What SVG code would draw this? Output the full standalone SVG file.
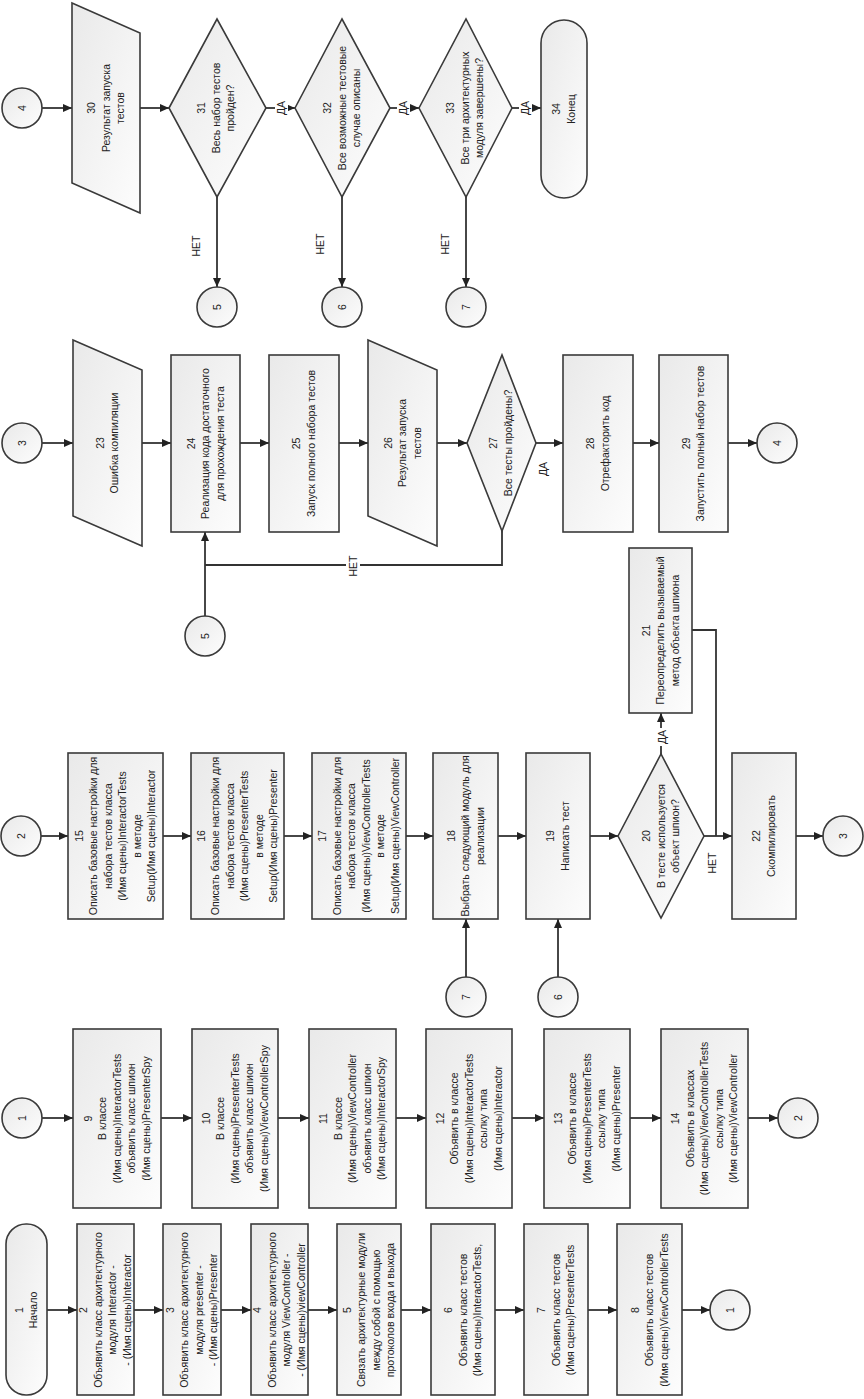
<svg xmlns="http://www.w3.org/2000/svg" width="864" height="1399" viewBox="0 0 864 1399">
<defs>
<linearGradient id="g" x1="0" y1="0" x2="1" y2="1">
<stop offset="0" stop-color="#e9e9e9"/>
<stop offset="1" stop-color="#fdfdfd"/>
</linearGradient>
<marker id="ah" markerUnits="userSpaceOnUse" markerWidth="9" markerHeight="8" refX="9" refY="4" orient="auto">
<path d="M0,0 L9,4 L0,8 z" fill="#222"/>
</marker>
<style>
.b{fill:url(#g);stroke:#3a3a3a;stroke-width:1.6}
.ln{fill:none;stroke:#333;stroke-width:1.8}
.a{marker-end:url(#ah)}
.t{font-family:"Liberation Sans",Arial,sans-serif;font-size:10.5px;fill:#222;text-anchor:middle}
.bg{fill:#fff;stroke:none}
</style>
</defs>
<rect width="864" height="1399" fill="#fff"/>

<g id="connectors">
<path class="ln a" d="M42,108 H72"/>
<path class="ln a" d="M140,108 H169"/>
<path class="ln a" d="M266,108 H295"/>
<path class="ln a" d="M390,108 H419"/>
<path class="ln a" d="M512,108 H541"/>
<path class="ln a" d="M217,197 V287"/>
<path class="ln a" d="M342,197 V287"/>
<path class="ln a" d="M466,197 V287"/>
<path class="ln a" d="M42,443 H73"/>
<path class="ln a" d="M142,443 H171"/>
<path class="ln a" d="M240,443 H269"/>
<path class="ln a" d="M339,443 H368"/>
<path class="ln a" d="M437,443 H467"/>
<path class="ln a" d="M536,443 H563"/>
<path class="ln a" d="M633,443 H659"/>
<path class="ln a" d="M728,443 H757"/>
<path class="ln" d="M502,531 V565 H205"/>
<path class="ln a" d="M205,616 V532"/>
<path class="ln a" d="M41,836 H68"/>
<path class="ln a" d="M163,836 H191"/>
<path class="ln a" d="M284,836 H312"/>
<path class="ln a" d="M406,836 H433"/>
<path class="ln a" d="M498,836 H526"/>
<path class="ln a" d="M590,836 H618"/>
<path class="ln a" d="M704,836 H732"/>
<path class="ln a" d="M796,836 H823"/>
<path class="ln a" d="M661,754 V713"/>
<path class="ln" d="M692,630 H716 V836"/>
<path class="ln a" d="M466,977 V919"/>
<path class="ln a" d="M558,977 V919"/>
<path class="ln a" d="M42,1118 H73"/>
<path class="ln a" d="M161,1118 H192"/>
<path class="ln a" d="M278,1118 H309"/>
<path class="ln a" d="M396,1118 H426"/>
<path class="ln a" d="M512,1118 H544"/>
<path class="ln a" d="M630,1118 H661"/>
<path class="ln a" d="M748,1118 H778"/>
<path class="ln a" d="M47,1310 H77"/>
<path class="ln a" d="M134,1310 H163"/>
<path class="ln a" d="M221,1310 H251"/>
<path class="ln a" d="M308,1310 H337"/>
<path class="ln a" d="M401,1310 H431"/>
<path class="ln a" d="M495,1310 H524"/>
<path class="ln a" d="M588,1310 H617"/>
<path class="ln a" d="M682,1310 H710"/>
<rect class="bg" x="275" y="99" width="13" height="18"/>
<text class="t" transform="translate(281,108) rotate(-90)" y="3.7">ДА</text>
<rect class="bg" x="397" y="99" width="13" height="18"/>
<text class="t" transform="translate(403,108) rotate(-90)" y="3.7">ДА</text>
<rect class="bg" x="519" y="99" width="13" height="18"/>
<text class="t" transform="translate(525,108) rotate(-90)" y="3.7">ДА</text>
<text class="t" transform="translate(196,246) rotate(-90)" y="3.7">НЕТ</text>
<text class="t" transform="translate(320,244) rotate(-90)" y="3.7">НЕТ</text>
<text class="t" transform="translate(445,244) rotate(-90)" y="3.7">НЕТ</text>
<rect class="bg" x="346" y="555" width="14" height="22"/>
<text class="t" transform="translate(353,566) rotate(-90)" y="3.7">НЕТ</text>
<text class="t" transform="translate(543,469) rotate(-90)" y="3.7">ДА</text>
<rect class="bg" x="655" y="728" width="14" height="18"/>
<text class="t" transform="translate(662,737) rotate(-90)" y="3.7">ДА</text>
<text class="t" transform="translate(712,863) rotate(-90)" y="3.7">НЕТ</text>
</g>

<g id="c4a"><circle class="b" cx="22" cy="108" r="20"/><text class="t" transform="translate(22,108) rotate(-90)" y="3.7">4</text></g>
<g id="n30"><polygon class="b" points="72,3 140,33 140,213 72,183"/><text class="t" transform="translate(106,108) rotate(-90)"><tspan x="0" y="-10.8">30</tspan><tspan x="0" y="3.7">Результат запуска</tspan><tspan x="0" y="18.2">тестов</tspan></text></g>
<g id="n31"><polygon class="b" points="169,108 217,19 266,108 217,197"/><text class="t" transform="translate(216,108) rotate(-90)"><tspan x="0" y="-10.8">31</tspan><tspan x="0" y="3.7">Весь набор тестов</tspan><tspan x="0" y="18.2">пройден?</tspan></text></g>
<g id="n32"><polygon class="b" points="295,108 342,19 390,108 342,197"/><text class="t" transform="translate(342,108) rotate(-90)"><tspan x="0" y="-10.8">32</tspan><tspan x="0" y="3.7">Все возможные тестовые</tspan><tspan x="0" y="18.2">случае описаны</tspan></text></g>
<g id="n33"><polygon class="b" points="419,108 466,19 512,108 466,197"/><text class="t" transform="translate(465,108) rotate(-90)"><tspan x="0" y="-10.8">33</tspan><tspan x="0" y="3.7">Все три архитектурных</tspan><tspan x="0" y="18.2">модуля завершены?</tspan></text></g>
<g id="n34"><rect class="b" x="541" y="20" width="46" height="178" rx="23"/><text class="t" transform="translate(564,109) rotate(-90)"><tspan x="0" y="-3.55">34</tspan><tspan x="0" y="10.95">Конец</tspan></text></g>
<g id="c5a"><circle class="b" cx="217" cy="307" r="20"/><text class="t" transform="translate(217,307) rotate(-90)" y="3.7">5</text></g>
<g id="c6a"><circle class="b" cx="342" cy="307" r="20"/><text class="t" transform="translate(342,307) rotate(-90)" y="3.7">6</text></g>
<g id="c7a"><circle class="b" cx="466" cy="307" r="20"/><text class="t" transform="translate(466,307) rotate(-90)" y="3.7">7</text></g>

<g id="c3a"><circle class="b" cx="22" cy="443" r="20"/><text class="t" transform="translate(22,443) rotate(-90)" y="3.7">3</text></g>
<g id="n23"><polygon class="b" points="73,340 142,370 142,546 73,516"/><text class="t" transform="translate(107.5,443) rotate(-90)"><tspan x="0" y="-3.55">23</tspan><tspan x="0" y="10.95">Ошибка компиляции</tspan></text></g>
<g id="n24"><rect class="b" x="171" y="355" width="69" height="177"/><text class="t" transform="translate(205.5,443.5) rotate(-90)"><tspan x="0" y="-10.8">24</tspan><tspan x="0" y="3.7">Реализация кода достаточного</tspan><tspan x="0" y="18.2">для прохождения теста</tspan></text></g>
<g id="n25"><rect class="b" x="269" y="355" width="70" height="177"/><text class="t" transform="translate(304,443.5) rotate(-90)"><tspan x="0" y="-3.55">25</tspan><tspan x="0" y="10.95">Запуск полного набора тестов</tspan></text></g>
<g id="n26"><polygon class="b" points="368,340 437,370 437,546 368,516"/><text class="t" transform="translate(402.5,443) rotate(-90)"><tspan x="0" y="-10.8">26</tspan><tspan x="0" y="3.7">Результат запуска</tspan><tspan x="0" y="18.2">тестов</tspan></text></g>
<g id="n27"><polygon class="b" points="467,443 502,355 536,443 502,531"/><text class="t" transform="translate(501,443) rotate(-90)"><tspan x="0" y="-3.55">27</tspan><tspan x="0" y="10.95">Все тесты пройдены?</tspan></text></g>
<g id="n28"><rect class="b" x="563" y="355" width="70" height="177"/><text class="t" transform="translate(598,443.5) rotate(-90)"><tspan x="0" y="-3.55">28</tspan><tspan x="0" y="10.95">Отрефакторить код</tspan></text></g>
<g id="n29"><rect class="b" x="659" y="355" width="69" height="177"/><text class="t" transform="translate(693.5,443.5) rotate(-90)"><tspan x="0" y="-3.55">29</tspan><tspan x="0" y="10.95">Запустить полный набор тестов</tspan></text></g>
<g id="c4b"><circle class="b" cx="777" cy="443" r="20"/><text class="t" transform="translate(777,443) rotate(-90)" y="3.7">4</text></g>
<g id="c5b"><circle class="b" cx="205" cy="636" r="20"/><text class="t" transform="translate(205,636) rotate(-90)" y="3.7">5</text></g>

<g id="c2a"><circle class="b" cx="21" cy="836" r="20"/><text class="t" transform="translate(21,836) rotate(-90)" y="3.7">2</text></g>
<g id="n15"><rect class="b" x="68" y="753" width="95" height="166"/><text class="t" transform="translate(115.5,836) rotate(-90)"><tspan x="0" y="-32.55">15</tspan><tspan x="0" y="-18.05">Описать базовые настройки для</tspan><tspan x="0" y="-3.55">набора тестов класса</tspan><tspan x="0" y="10.95">(Имя сцены)InteractorTests</tspan><tspan x="0" y="25.45">в методе</tspan><tspan x="0" y="39.95">Setup(Имя сцены)Interactor</tspan></text></g>
<g id="n16"><rect class="b" x="191" y="753" width="93" height="166"/><text class="t" transform="translate(237.5,836) rotate(-90)"><tspan x="0" y="-32.55">16</tspan><tspan x="0" y="-18.05">Описать базовые настройки для</tspan><tspan x="0" y="-3.55">набора тестов класса</tspan><tspan x="0" y="10.95">(Имя сцены)PresenterTests</tspan><tspan x="0" y="25.45">в методе</tspan><tspan x="0" y="39.95">Setup(Имя сцены)Presenter</tspan></text></g>
<g id="n17"><rect class="b" x="312" y="753" width="94" height="166"/><text class="t" transform="translate(359,836) rotate(-90)"><tspan x="0" y="-32.55">17</tspan><tspan x="0" y="-18.05">Описать базовые настройки для</tspan><tspan x="0" y="-3.55">набора тестов класса</tspan><tspan x="0" y="10.95">(Имя сцены)ViewControllerTests</tspan><tspan x="0" y="25.45">в методе</tspan><tspan x="0" y="39.95">Setup(Имя сцены)ViewController</tspan></text></g>
<g id="n18"><rect class="b" x="433" y="753" width="65" height="166"/><text class="t" transform="translate(465.5,836) rotate(-90)"><tspan x="0" y="-10.8">18</tspan><tspan x="0" y="3.7">Выбрать следующий модуль для</tspan><tspan x="0" y="18.2">реализации</tspan></text></g>
<g id="n19"><rect class="b" x="526" y="753" width="64" height="166"/><text class="t" transform="translate(558,836) rotate(-90)"><tspan x="0" y="-3.55">19</tspan><tspan x="0" y="10.95">Написать тест</tspan></text></g>
<g id="n20"><polygon class="b" points="618,836 661,754 704,836 661,918"/><text class="t" transform="translate(661,836) rotate(-90)"><tspan x="0" y="-10.8">20</tspan><tspan x="0" y="3.7">В тесте используется</tspan><tspan x="0" y="18.2">объект шпион?</tspan></text></g>
<g id="n21"><rect class="b" x="629" y="548" width="63" height="165"/><text class="t" transform="translate(660.5,630.5) rotate(-90)"><tspan x="0" y="-10.8">21</tspan><tspan x="0" y="3.7">Переопределить вызываемый</tspan><tspan x="0" y="18.2">метод объекта шпиона</tspan></text></g>
<g id="n22"><rect class="b" x="732" y="753" width="64" height="166"/><text class="t" transform="translate(764,836) rotate(-90)"><tspan x="0" y="-3.55">22</tspan><tspan x="0" y="10.95">Скомпилировать</tspan></text></g>
<g id="c3b"><circle class="b" cx="843" cy="836" r="20"/><text class="t" transform="translate(843,836) rotate(-90)" y="3.7">3</text></g>
<g id="c7b"><circle class="b" cx="466" cy="997" r="20"/><text class="t" transform="translate(466,997) rotate(-90)" y="3.7">7</text></g>
<g id="c6b"><circle class="b" cx="558" cy="997" r="20"/><text class="t" transform="translate(558,997) rotate(-90)" y="3.7">6</text></g>

<g id="c1a"><circle class="b" cx="22" cy="1118" r="20"/><text class="t" transform="translate(22,1118) rotate(-90)" y="3.7">1</text></g>
<g id="n9"><rect class="b" x="73" y="1029" width="88" height="179"/><text class="t" transform="translate(117,1118.5) rotate(-90)"><tspan x="0" y="-25.3">9</tspan><tspan x="0" y="-10.8">В классе</tspan><tspan x="0" y="3.7">(Имя сцены)InteractorTests</tspan><tspan x="0" y="18.2">объявить класс шпион</tspan><tspan x="0" y="32.7">(Имя сцены)PresenterSpy</tspan></text></g>
<g id="n10"><rect class="b" x="192" y="1029" width="86" height="179"/><text class="t" transform="translate(235,1118.5) rotate(-90)"><tspan x="0" y="-25.3">10</tspan><tspan x="0" y="-10.8">В классе</tspan><tspan x="0" y="3.7">(Имя сцены)PresenterTests</tspan><tspan x="0" y="18.2">объявить класс шпион</tspan><tspan x="0" y="32.7">(Имя сцены)ViewControllerSpy</tspan></text></g>
<g id="n11"><rect class="b" x="309" y="1029" width="87" height="179"/><text class="t" transform="translate(352.5,1118.5) rotate(-90)"><tspan x="0" y="-25.3">11</tspan><tspan x="0" y="-10.8">В классе</tspan><tspan x="0" y="3.7">(Имя сцены)ViewController</tspan><tspan x="0" y="18.2">объявить класс шпион</tspan><tspan x="0" y="32.7">(Имя сцены)InteractorSpy</tspan></text></g>
<g id="n12"><rect class="b" x="426" y="1029" width="86" height="179"/><text class="t" transform="translate(469,1118.5) rotate(-90)"><tspan x="0" y="-25.3">12</tspan><tspan x="0" y="-10.8">Объявить в классе</tspan><tspan x="0" y="3.7">(Имя сцены)InteractorTests</tspan><tspan x="0" y="18.2">ссылку типа</tspan><tspan x="0" y="32.7">(Имя сцены)Interactor</tspan></text></g>
<g id="n13"><rect class="b" x="544" y="1029" width="86" height="179"/><text class="t" transform="translate(587,1118.5) rotate(-90)"><tspan x="0" y="-25.3">13</tspan><tspan x="0" y="-10.8">Объявить в классе</tspan><tspan x="0" y="3.7">(Имя сцены)PresenterTests</tspan><tspan x="0" y="18.2">ссылку типа</tspan><tspan x="0" y="32.7">(Имя сцены)Presenter</tspan></text></g>
<g id="n14"><rect class="b" x="661" y="1029" width="87" height="179"/><text class="t" transform="translate(704.5,1118.5) rotate(-90)"><tspan x="0" y="-25.3">14</tspan><tspan x="0" y="-10.8">Объявить в классах</tspan><tspan x="0" y="3.7">(Имя сцены)ViewControllerTests</tspan><tspan x="0" y="18.2">ссылку типа</tspan><tspan x="0" y="32.7">(Имя сцены)ViewController</tspan></text></g>
<g id="c2b"><circle class="b" cx="798" cy="1118" r="20"/><text class="t" transform="translate(798,1118) rotate(-90)" y="3.7">2</text></g>

<g id="n1"><rect class="b" x="6" y="1224" width="41" height="171" rx="20"/><text class="t" transform="translate(26.5,1310) rotate(-90)"><tspan x="0" y="-3.55">1</tspan><tspan x="0" y="10.95">Начало</tspan></text></g>
<g id="n2"><rect class="b" x="77" y="1224" width="57" height="171"/><text class="t" transform="translate(105.5,1310) rotate(-90)"><tspan x="0" y="-18.05">2</tspan><tspan x="0" y="-3.55">Объявить класс архитектурного</tspan><tspan x="0" y="10.95">модуля Interactor -</tspan><tspan x="0" y="25.45">- (Имя сцены)Interactor</tspan></text></g>
<g id="n3"><rect class="b" x="163" y="1224" width="58" height="171"/><text class="t" transform="translate(192,1310) rotate(-90)"><tspan x="0" y="-18.05">3</tspan><tspan x="0" y="-3.55">Объявить класс архитектурного</tspan><tspan x="0" y="10.95">модуля presenter -</tspan><tspan x="0" y="25.45">- (Имя сцены)Presenter</tspan></text></g>
<g id="n4"><rect class="b" x="251" y="1224" width="57" height="171"/><text class="t" transform="translate(279.5,1310) rotate(-90)"><tspan x="0" y="-18.05">4</tspan><tspan x="0" y="-3.55">Объявить класс архитектурного</tspan><tspan x="0" y="10.95">модуля ViewController -</tspan><tspan x="0" y="25.45">- (Имя сцены)viewController</tspan></text></g>
<g id="n5"><rect class="b" x="337" y="1224" width="64" height="171"/><text class="t" transform="translate(369,1310) rotate(-90)"><tspan x="0" y="-18.05">5</tspan><tspan x="0" y="-3.55">Связать архитектурные модули</tspan><tspan x="0" y="10.95">между собой с помощью</tspan><tspan x="0" y="25.45">протоколов входа и выхода</tspan></text></g>
<g id="n6"><rect class="b" x="431" y="1224" width="64" height="171"/><text class="t" transform="translate(463,1310) rotate(-90)"><tspan x="0" y="-10.8">6</tspan><tspan x="0" y="3.7">Объявить класс тестов</tspan><tspan x="0" y="18.2">(Имя сцены)InteractorTests,</tspan></text></g>
<g id="n7"><rect class="b" x="524" y="1224" width="64" height="171"/><text class="t" transform="translate(556,1310) rotate(-90)"><tspan x="0" y="-10.8">7</tspan><tspan x="0" y="3.7">Объявить класс тестов</tspan><tspan x="0" y="18.2">(Имя сцены)PresenterTests</tspan></text></g>
<g id="n8"><rect class="b" x="617" y="1224" width="65" height="171"/><text class="t" transform="translate(649.5,1310) rotate(-90)"><tspan x="0" y="-10.8">8</tspan><tspan x="0" y="3.7">Объявить класс тестов</tspan><tspan x="0" y="18.2">(Имя сцены)ViewControllerTests</tspan></text></g>
<g id="c1b"><circle class="b" cx="730" cy="1310" r="20"/><text class="t" transform="translate(730,1310) rotate(-90)" y="3.7">1</text></g>
</svg>
